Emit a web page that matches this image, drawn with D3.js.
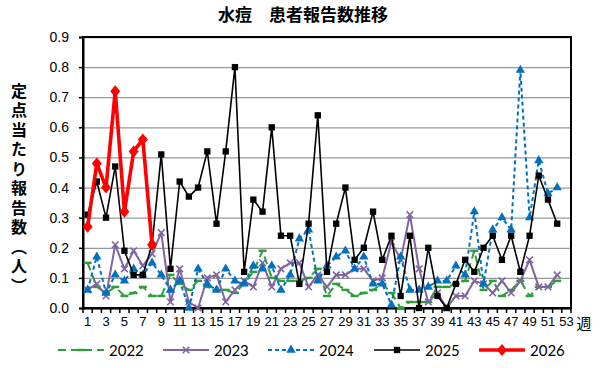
<!DOCTYPE html>
<html>
<head>
<meta charset="utf-8">
<script src="https://cdn.jsdelivr.net/npm/d3@7"></script>
<style>
  body { margin: 0; background: #fff; }
  svg { display: block; font-family: Lato, "Noto Sans CJK JP", sans-serif; }
</style>
</head>
<body>
<svg width="600" height="368"></svg>
<script>
// weeks 1..53 on the axis, odd ones labelled
const weeks = d3.range(1, 54);
const weekLabels = weeks.filter((w) => w % 2 === 1);
const yTicks = [0, 0.1, 0.2, 0.3, 0.4, 0.5, 0.6, 0.7, 0.8, 0.9];

const v2022 = [0.15, 0.07, 0.05, 0.07, 0.04, 0.05, 0.07, 0.04, 0.04, 0.11,
  0.08, 0.06, 0.09, 0.07, 0.06, 0.06, 0.05, 0.08, 0.12, 0.19,
  0.10, 0.09, 0.09, 0.09, 0.10, 0.13, 0.04, 0.08, 0.06, 0.04,
  0.05, 0.06, 0.08, 0.05, 0.00, 0.02, 0.02, 0.02, 0.07, 0.07,
  0.08, 0.09, 0.19, 0.06, 0.09, 0.04, 0.06, 0.09, 0.04, 0.07,
  0.07, 0.09];
const v2023 = [0.06, 0.08, 0.04, 0.21, 0.13, 0.19, 0.14, 0.18, 0.25, 0.02,
  0.13, 0.02, 0.00, 0.10, 0.11, 0.02, 0.06, 0.09, 0.07, 0.15,
  0.07, 0.13, 0.15, 0.15, 0.07, 0.11, 0.07, 0.11, 0.11, 0.13,
  0.13, 0.09, 0.10, 0.22, 0.16, 0.31, 0.13, 0.02, 0.05, 0.00,
  0.04, 0.04, 0.09, 0.08, 0.05, 0.09, 0.05, 0.09, 0.16, 0.07,
  0.07, 0.11];
const v2024 = [0.06, 0.17, 0.05, 0.11, 0.09, 0.13, 0.11, 0.15, 0.11, 0.06,
  0.09, 0.00, 0.13, 0.08, 0.06, 0.13, 0.09, 0.08, 0.14, 0.13,
  0.14, 0.06, 0.11, 0.23, 0.26, 0.09, 0.14, 0.17, 0.19, 0.13,
  0.17, 0.08, 0.08, 0.01, 0.17, 0.06, 0.06, 0.07, 0.09, 0.09,
  0.14, 0.11, 0.32, 0.08, 0.26, 0.30, 0.26, 0.79, 0.30, 0.49,
  0.38, 0.40];
const v2025 = [0.31, 0.42, 0.30, 0.47, 0.19, 0.11, 0.11, 0.21, 0.51, 0.13,
  0.42, 0.37, 0.40, 0.52, 0.28, 0.52, 0.80, 0.12, 0.36, 0.32,
  0.60, 0.24, 0.24, 0.08, 0.28, 0.64, 0.12, 0.28, 0.40, 0.16,
  0.20, 0.32, 0.16, 0.24, 0.04, 0.24, 0.00, 0.20, 0.04, 0.00,
  0.08, 0.16, 0.12, 0.20, 0.24, 0.16, 0.24, 0.12, 0.24, 0.44,
  0.36, 0.28];
const v2026 = [0.27, 0.48, 0.40, 0.72, 0.32, 0.52, 0.56, 0.21];

const series = [
  { name: "2022", values: v2022, color: "#2e9e3a", width: 2, dash: "8,5", marker: "dash" },
  { name: "2023", values: v2023, color: "#8064a2", width: 2, dash: null, marker: "x" },
  { name: "2024", values: v2024, color: "#0070c0", width: 2, dash: "4,3", marker: "triangle" },
  { name: "2025", values: v2025, color: "#000000", width: 1.6, dash: null, marker: "square" },
  { name: "2026", values: v2026, color: "#ff0000", width: 3.6, dash: null, marker: "diamond" },
];

const svg = d3.select("svg");
const plotL = 83, plotR = 571, plotT = 37, plotB = 308;

const x = d3.scaleBand().domain(weeks).range([plotL, plotR]).padding(0);
const cx = (w) => x(w) + x.bandwidth() / 2;
const y = d3.scaleLinear().domain([0, 0.9]).range([plotB, plotT]);

// title
svg.append("text")
  .attr("x", 303).attr("y", 21)
  .attr("text-anchor", "middle")
  .style("font-family", "'Noto Sans CJK JP', sans-serif")
  .style("font-weight", "bold")
  .style("font-size", "17px")
  .text("水痘　患者報告数推移");

// gridlines
svg.append("g")
  .attr("transform", `translate(${plotL},0)`)
  .call(d3.axisLeft(y).tickValues(yTicks).tickSize(-(plotR - plotL)).tickFormat(""))
  .call((g) => g.select(".domain").remove())
  .call((g) => g.selectAll("line").attr("stroke", "#999").attr("stroke-width", 1.3));

// plot frame
svg.append("rect")
  .attr("x", plotL).attr("y", plotT)
  .attr("width", plotR - plotL).attr("height", plotB - plotT)
  .attr("fill", "none").attr("stroke", "#000").attr("stroke-width", 2);

// y axis
svg.append("g")
  .attr("transform", `translate(${plotL},0)`)
  .call(d3.axisLeft(y).tickValues(yTicks).tickFormat(d3.format(".1f")).tickSize(4).tickPadding(10))
  .call((g) => g.select(".domain").attr("stroke-width", 2))
  .call((g) => g.selectAll("line").attr("stroke-width", 1.5))
  .call((g) => g.selectAll("text").style("font-size", "14px").attr("fill", "#000"));

// x axis: tick marks between categories, labels on odd weeks
svg.append("g")
  .selectAll("line")
  .data(weeks.concat([54]))
  .join("line")
  .attr("x1", (w) => (w === 54 ? plotR : x(w)))
  .attr("x2", (w) => (w === 54 ? plotR : x(w)))
  .attr("y1", plotB).attr("y2", plotB + 5)
  .attr("stroke", "#000").attr("stroke-width", 1.5);

svg.append("g")
  .attr("transform", `translate(0,${plotB})`)
  .call(d3.axisBottom(x).tickValues(weekLabels).tickSize(0).tickPadding(9))
  .call((g) => g.select(".domain").attr("stroke-width", 2))
  .call((g) => g.selectAll("text").style("font-size", "13px").attr("fill", "#000"));

svg.append("text")
  .attr("x", 584).attr("y", 329)
  .attr("text-anchor", "middle")
  .style("font-family", "'Noto Sans CJK JP', sans-serif")
  .style("font-size", "15px")
  .text("週");

// y axis title, vertical writing
svg.append("text")
  .attr("x", 19)
  .attr("y", 190)
  .attr("text-anchor", "middle")
  .style("writing-mode", "vertical-rl")
  .style("font-family", "'Noto Sans CJK JP', sans-serif")
  .style("font-weight", "bold")
  .style("font-size", "16px")
  .style("letter-spacing", "3.5px")
  .text("定点当たり報告数（人）");

// markers
function drawMarker(sel, s) {
  if (s.marker === "dash") {
    sel.append("path").attr("d", "M-4,0H4").attr("stroke", s.color).attr("stroke-width", 2.5);
  } else if (s.marker === "x") {
    sel.append("path").attr("d", d3.symbol(d3.symbolX, 30)()).attr("stroke", s.color).attr("stroke-width", 1.6).attr("fill", "none");
  } else if (s.marker === "triangle") {
    sel.append("path").attr("d", d3.symbol(d3.symbolTriangle, 38)()).attr("fill", s.color);
  } else if (s.marker === "square") {
    sel.append("path").attr("d", d3.symbol(d3.symbolSquare, 40)()).attr("fill", s.color);
  } else if (s.marker === "diamond") {
    sel.append("path").attr("d", "M0,-6L5,0L0,6L-5,0Z").attr("fill", s.color);
  }
}

const line = d3.line().x((d, i) => cx(i + 1)).y((d) => y(d));

series.forEach((s) => {
  const g = svg.append("g");
  g.append("path")
    .attr("d", line(s.values))
    .attr("fill", "none")
    .attr("stroke", s.color)
    .attr("stroke-width", s.width)
    .attr("stroke-dasharray", s.dash)
    .attr("stroke-linejoin", "round");
  g.selectAll("g")
    .data(s.values)
    .join("g")
    .attr("transform", (d, i) => `translate(${cx(i + 1)},${y(d)})`)
    .each(function () { drawMarker(d3.select(this), s); });
});

// legend
const legendX = [58, 163, 268, 374, 479];
const legend = svg.append("g")
  .selectAll("g")
  .data(series)
  .join("g")
  .attr("transform", (d, i) => `translate(${legendX[i]},350)`);
legend.append("line")
  .attr("x1", 0).attr("x2", 46)
  .attr("stroke", (d) => d.color)
  .attr("stroke-width", (d) => d.width)
  .attr("stroke-dasharray", (d) => d.dash);
legend.append("g")
  .attr("transform", "translate(23,0)")
  .each(function (d) { drawMarker(d3.select(this), d); });
legend.append("text")
  .attr("x", 51).attr("y", 5.5)
  .style("font-size", "15px")
  .text((d) => d.name);
</script>
</body>
</html>
